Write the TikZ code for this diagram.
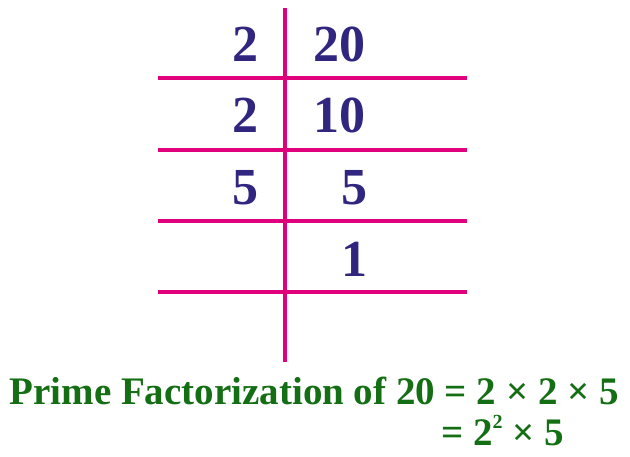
\documentclass[tikz,border=0pt]{standalone}
\usepackage{fontspec}
\setmainfont{Liberation Serif}
\definecolor{mag}{RGB}{224,0,124}
\definecolor{num}{RGB}{48,38,128}
\definecolor{grn}{RGB}{20,110,20}
\begin{document}
\begin{tikzpicture}[x=1pt,y=-1pt,
  rule/.style={mag,line width=3.6pt},
  digit/.style={num,font=\fontsize{52}{52}\selectfont\bfseries,inner sep=0pt},
  txt/.style={grn,font=\fontsize{39}{39}\selectfont\bfseries,inner sep=0pt}]
\useasboundingbox (0,0) rectangle (630,457);
\coordinate (vt) at (285,8); \coordinate (vb) at (285,362);
\draw[rule] (vt) -- (vb);
\foreach \y/\n in {78/a,150/b,221/c,292/d}{
  \coordinate (l\n) at (158,\y); \coordinate (r\n) at (467,\y);
  \draw[rule] (l\n) -- (r\n);}
\node[digit,anchor=base] (d1) at (245,62) {2};
\node[digit,anchor=base] (d2) at (245,133) {2};
\node[digit,anchor=base] (d3) at (245,205) {5};
\node[digit,anchor=base] (q1) at (339,62) {20};
\node[digit,anchor=base] (q2) at (339,133) {10};
\node[digit,anchor=base] (q3) at (354,205) {5};
\node[digit,anchor=base] (q4) at (354,277) {1};
\node[txt,anchor=base east] (t1) at (619,405) {Prime Factorization of 20 = 2 × 2 × 5};
\node[txt,anchor=base west] (t2) at (441,446) {= 2\raisebox{0.95ex}{\fontsize{20}{20}\selectfont 2} × 5};
\end{tikzpicture}
\end{document}
